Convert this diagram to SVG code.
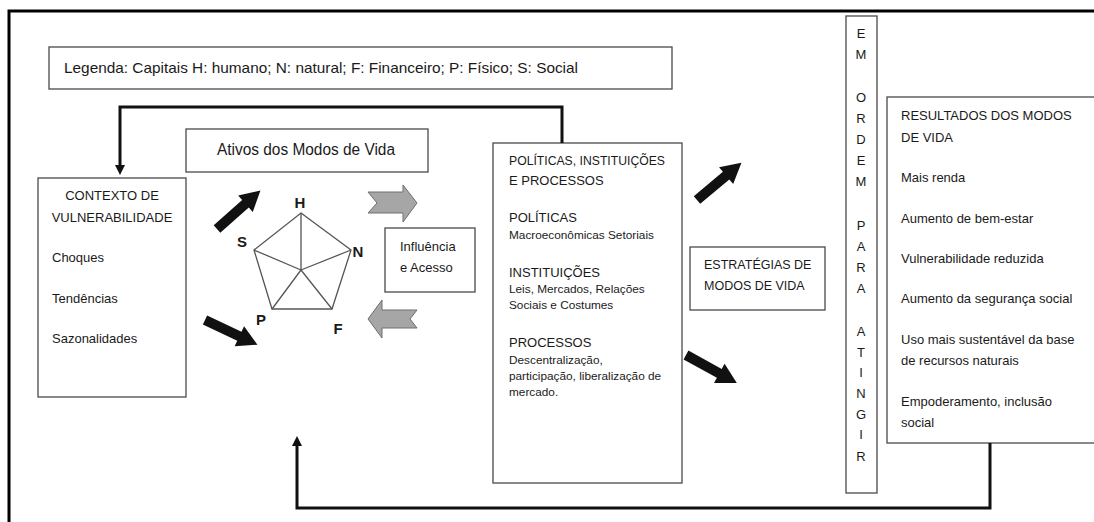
<svg xmlns="http://www.w3.org/2000/svg" width="1094" height="522" viewBox="0 0 1094 522">
<style>
.box{fill:#fff;stroke:#4a4a4a;stroke-width:1.3}
.t{font-family:"Liberation Sans",Arial,sans-serif;font-size:13px;fill:#1a1a1a}
.s{font-family:"Liberation Sans",Arial,sans-serif;font-size:11.8px;fill:#1a1a1a}
.b{font-family:"Liberation Sans",Arial,sans-serif;font-size:15px;font-weight:bold;fill:#1a1a1a}
.c{text-anchor:middle}
.conn{fill:none;stroke:#111;stroke-width:3}
.gray{fill:#a6a6a6;stroke:#6e6e6e;stroke-width:1}
.blk{fill:#111}
</style>
<defs>
<polygon id="blk" points="0,-5 38,-5 38,-11 58,0 38,11 38,5 0,5"/>
</defs>
<rect width="1094" height="522" fill="#fff"/>
<g id="frame">
<path d="M9,522 V11 H1094" fill="none" stroke="#000" stroke-width="3"/>
</g>
<g id="legend">
<rect class="box" x="49" y="47" width="623" height="42"/>
<text class="t" x="64" y="73" style="font-size:14.5px" textLength="514" lengthAdjust="spacingAndGlyphs">Legenda:  Capitais  H: humano; N: natural; F: Financeiro; P: Físico; S: Social</text>
</g>
<g id="ativos">
<rect class="box" x="186" y="129" width="242" height="43"/>
<text class="t c" x="306" y="155" style="font-size:16px" textLength="178" lengthAdjust="spacingAndGlyphs">Ativos dos Modos de Vida</text>
</g>
<g id="contexto">
<rect class="box" x="38" y="178" width="148" height="219"/>
<text class="t c" x="112" y="200">CONTEXTO DE</text>
<text class="t c" x="112" y="222">VULNERABILIDADE</text>
<text class="t" x="52" y="262">Choques</text>
<text class="t" x="52" y="303">Tendências</text>
<text class="t" x="52" y="343">Sazonalidades</text>
</g>
<g id="pentagono">
<polygon points="301,213 351,250 332,309 272,309 254,250" fill="none" stroke="#555" stroke-width="1.3"/>
<path d="M301,270 L301,213 M301,270 L351,250 M301,270 L332,309 M301,270 L272,309 M301,270 L254,250" fill="none" stroke="#555" stroke-width="1.3"/>
<text class="b c" x="300" y="208">H</text>
<text class="b c" x="242" y="247">S</text>
<text class="b c" x="358" y="257">N</text>
<text class="b c" x="261" y="325">P</text>
<text class="b c" x="338" y="334">F</text>
</g>
<g id="influencia">
<rect class="box" x="385" y="228" width="90" height="64"/>
<text class="t" x="400" y="251">Influência</text>
<text class="t" x="400" y="272">e Acesso</text>
</g>
<g id="pip">
<rect class="box" x="493" y="143" width="189" height="340"/>
<text class="t" x="509" y="165" textLength="156" lengthAdjust="spacingAndGlyphs">POLÍTICAS, INSTITUIÇÕES</text>
<text class="t" x="509" y="185">E PROCESSOS</text>
<text class="t" x="509" y="222">POLÍTICAS</text>
<text class="s" x="509" y="239">Macroeconômicas Setoriais</text>
<text class="t" x="509" y="277">INSTITUIÇÕES</text>
<text class="s" x="509" y="293">Leis, Mercados, Relações</text>
<text class="s" x="509" y="309">Sociais e Costumes</text>
<text class="t" x="509" y="347">PROCESSOS</text>
<text class="s" x="509" y="364">Descentralização,</text>
<text class="s" x="509" y="380">participação, liberalização de</text>
<text class="s" x="509" y="396">mercado.</text>
</g>
<g id="estrategias">
<rect class="box" x="690" y="247" width="135" height="63"/>
<text class="t" x="704" y="269" style="font-size:12.5px">ESTRATÉGIAS DE</text>
<text class="t" x="704" y="290" style="font-size:12.5px">MODOS DE VIDA</text>
</g>
<g id="emordem">
<rect class="box" x="846" y="16" width="31" height="477"/>
<g class="t c">
<text x="861" y="38">E</text>
<text x="861" y="59">M</text>
<text x="861" y="102">O</text>
<text x="861" y="123">R</text>
<text x="861" y="144">D</text>
<text x="861" y="165">E</text>
<text x="861" y="186">M</text>
<text x="861" y="230">P</text>
<text x="861" y="251">A</text>
<text x="861" y="272">R</text>
<text x="861" y="293">A</text>
<text x="861" y="336">A</text>
<text x="861" y="357">T</text>
<text x="861" y="377">I</text>
<text x="861" y="398">N</text>
<text x="861" y="419">G</text>
<text x="861" y="439">I</text>
<text x="861" y="461">R</text>
</g>
</g>
<g id="resultados">
<rect class="box" x="887" y="97" width="212" height="346"/>
<text class="t" x="901" y="120">RESULTADOS DOS MODOS</text>
<text class="t" x="901" y="142">DE VIDA</text>
<text class="t" x="901" y="182">Mais renda</text>
<text class="t" x="901" y="223">Aumento de bem-estar</text>
<text class="t" x="901" y="263">Vulnerabilidade reduzida</text>
<text class="t" x="901" y="303">Aumento da segurança social</text>
<text class="t" x="901" y="344">Uso mais sustentável  da base</text>
<text class="t" x="901" y="365">de recursos naturais</text>
<text class="t" x="901" y="406">Empoderamento, inclusão</text>
<text class="t" x="901" y="427">social</text>
</g>
<g id="connectors">
<path class="conn" d="M562,143 V107 H120 V166"/>
<polygon class="blk" points="115,165 125,165 120,175"/>
<path class="conn" d="M990,443 V508 H297 V445"/>
<polygon class="blk" points="292,446 302,446 297,436"/>
<use href="#blk" class="blk" transform="translate(217,229) rotate(-41.5)"/>
<use href="#blk" class="blk" transform="translate(205,320) rotate(25.3)"/>
<use href="#blk" class="blk" transform="translate(697,200) rotate(-40)"/>
<use href="#blk" class="blk" transform="translate(686,355) rotate(28.8)"/>
<polygon class="gray" points="368,192 403,192 403,185 417,203 403,222 403,213 368,213 377,203"/>
<polygon class="gray" points="417,310 382,310 382,300 368,319 382,338 382,328 417,328 410,319"/>
</g>
</svg>
